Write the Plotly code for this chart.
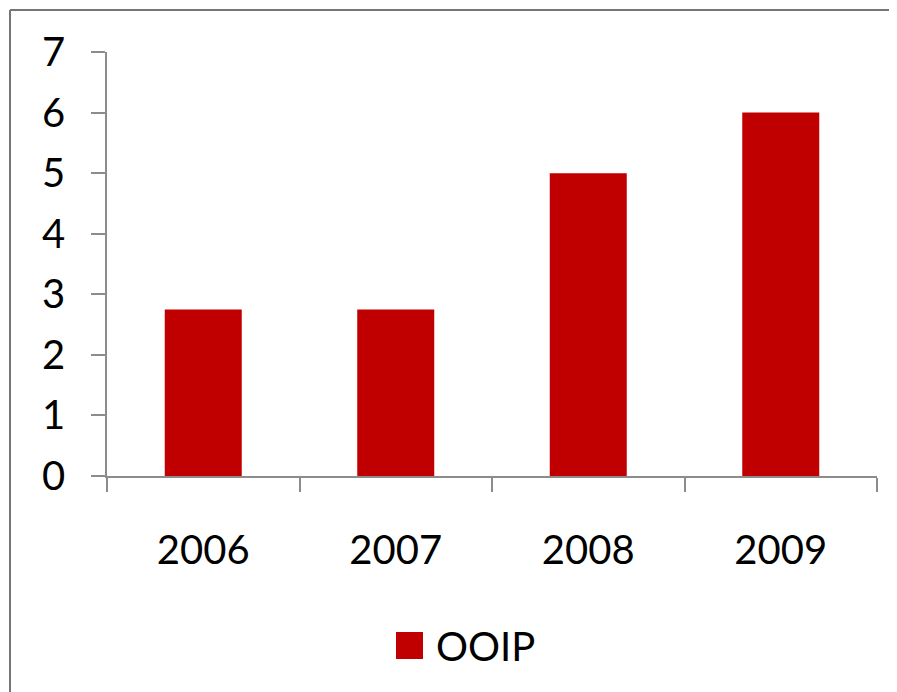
import plotly.graph_objects as go

years = ["2006", "2007", "2008", "2009"]
ooip = [2.75, 2.75, 5, 6]
series_name = "OOIP"
y_ticks = [0, 1, 2, 3, 4, 5, 6, 7]

RED = "#C00000"
GRAY = "#8c8c8c"
FONT = "Lato"

fig = go.Figure()
fig.add_trace(go.Bar(x=years, y=ooip, name=series_name, marker=dict(color=RED, line=dict(width=0)),
                     width=0.4, showlegend=False))

# manual legend (page px: plot area x 107..877, y 52..476)
def px_x(p):
    return (p - 107) / 770
def px_y(p):
    return (476 - p) / 424

fig.add_shape(type="rect", xref="paper", yref="paper",
              x0=px_x(396), x1=px_x(423), y0=px_y(659), y1=px_y(632),
              fillcolor=RED, line=dict(width=0))
fig.add_annotation(xref="paper", yref="paper", x=px_x(434), y=px_y(646),
                   text=series_name, showarrow=False, xanchor="left", yanchor="middle",
                   font=dict(family=FONT, size=40, color="#000000"))

# outer border (left and top)
fig.add_shape(type="line", xref="paper", yref="paper", x0=px_x(10), x1=px_x(10), y0=px_y(10), y1=px_y(720),
              line=dict(color="#767676", width=2))
fig.add_shape(type="line", xref="paper", yref="paper", x0=px_x(10), x1=px_x(920), y0=px_y(10), y1=px_y(10),
              line=dict(color="#767676", width=2))

fig.update_layout(
    width=889, height=684,
    margin=dict(l=99, r=20, t=44, b=216),
    paper_bgcolor="white", plot_bgcolor="white",
    font=dict(family=FONT, size=40, color="#000000"),
    xaxis=dict(type="category", showline=True, linecolor=GRAY, linewidth=1.5,
               ticks="outside", ticklen=14, tickcolor=GRAY, tickwidth=1.5,
               tickson="boundaries", showgrid=False, ticklabelstandoff=38,
               tickfont=dict(family=FONT, size=40)),
    yaxis=dict(range=[0, 7], tickvals=y_ticks, showline=True, linecolor=GRAY, linewidth=1.5,
               ticks="outside", ticklen=14, tickcolor=GRAY, tickwidth=1.5,
               showgrid=False, zeroline=False, ticklabelstandoff=18,
               tickfont=dict(family=FONT, size=40)),
)

fig.write_html("out.html")
